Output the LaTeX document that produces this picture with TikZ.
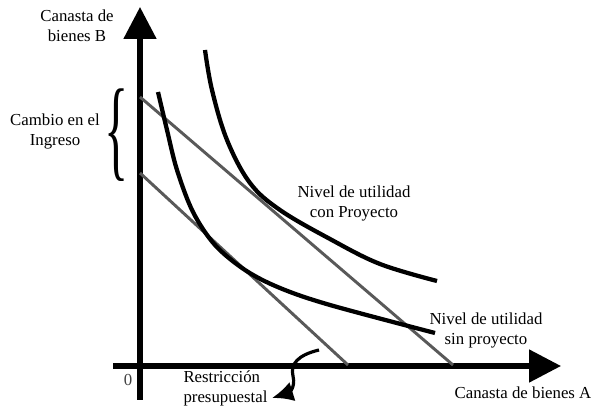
\documentclass[tikz,border=0pt]{standalone}
\usepackage{fontspec}
\usepackage{graphicx}
\setmainfont{Liberation Serif}
\usetikzlibrary{arrows.meta}

\tikzset{
  eje/.style={line width=3.8pt,-{Triangle[length=24pt,width=24pt]}},
  curva/.style={line width=3.2pt},
  recta/.style={line width=2.2pt,draw=black!65},
  texto/.style={font=\fontsize{12.6}{15}\selectfont,align=center,inner sep=0pt}
}

\begin{document}
\begin{tikzpicture}[x=0.75pt,y=-0.75pt,>=latex,thick]
\useasboundingbox (0,0) rectangle (596,409);

% ejes
\coordinate (Yini) at (140,400);
\coordinate (Yfin) at (140,7);
\coordinate (Xini) at (113,366);
\coordinate (Xfin) at (561,366);

\draw[eje] (Yini) -- (Yfin);
\draw[eje] (Xini) -- (Xfin);

% restricciones presupuestales
\coordinate (R0a) at (140,173);
\coordinate (R0b) at (348,365);
\coordinate (R1a) at (140,97);
\coordinate (R1b) at (453,365);

\draw[recta] (R0a) -- (R0b);
\draw[recta] (R1a) -- (R1b);

% curvas de indiferencia
\draw[curva] plot[smooth,tension=0.55] coordinates
  {(158,92) (167,130) (177,170) (193,212) (215,245) (245,270) (280,288) (330,305) (435,333)};
\draw[curva] plot[smooth,tension=0.6] coordinates
  {(205,50) (212,90) (227,140) (250,183) (280,210) (330,239) (380,264) (437,281)};

% textos
\node[texto] (ejeB) at (77,26) {Canasta de\\bienes B};
\node[texto] (ejeA) at (523,393) {Canasta de bienes A};
\node[texto,text=black!75] (origen) at (128,380) {0};
\node[texto] (cambio) at (55,131) {Cambio en el\\Ingreso};
\node[inner sep=0pt] (llave) at (117,135) {\scalebox{0.45}[1]{\fontsize{84}{84}\selectfont\{}};
\node[texto] (con) at (354,203) {Nivel de utilidad\\con Proyecto};
\node[texto] (sin) at (486,330) {Nivel de utilidad\\sin proyecto};
\node[texto,align=left,anchor=west] (restr) at (183,388) {Restricción\\presupuestal};

% flecha
\coordinate (Fini) at (319,350);
\coordinate (Ffin) at (272,398);
\draw[line width=2.4pt,-{Latex[length=16pt,width=15pt]}] (Fini)
  .. controls (298,355) and (290,364) .. (293,376)
  .. controls (296,388) and (288,393) .. (Ffin);

\end{tikzpicture}
\end{document}
